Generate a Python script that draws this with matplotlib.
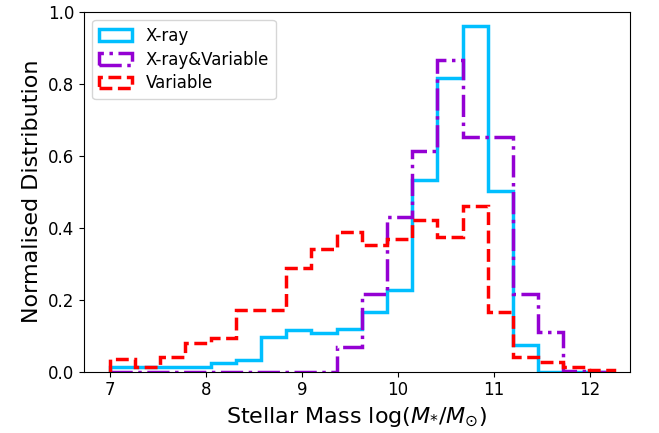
import numpy as np
import matplotlib
matplotlib.use("Agg")
import matplotlib.pyplot as plt

# bin edges of log stellar mass
bin_edges = np.linspace(7.0, 12.25, 21)

# normalised counts per bin
xray = [0.012, 0.012, 0.012, 0.012, 0.023, 0.033, 0.096, 0.115, 0.107, 0.119,
        0.165, 0.228, 0.533, 0.815, 0.959, 0.503, 0.075, 0.0, 0.0, 0.0]
xray_var = [0.0, 0.0, 0.0, 0.0, 0.0, 0.0, 0.0, 0.0, 0.0, 0.068,
            0.216, 0.431, 0.612, 0.866, 0.652, 0.652, 0.216, 0.109, 0.002, 0.0]
variable = [0.035, 0.014, 0.040, 0.079, 0.093, 0.172, 0.172, 0.289, 0.340, 0.387,
            0.351, 0.368, 0.421, 0.373, 0.459, 0.166, 0.040, 0.028, 0.012, 0.005]

centres = 0.5 * (bin_edges[:-1] + bin_edges[1:])

fig = plt.figure(figsize=(6.59, 4.33), dpi=100)
ax = fig.add_axes([0.1275, 0.1416, 0.8285, 0.8314])

ax.hist(centres, bins=bin_edges, weights=xray, histtype='step', lw=2.5,
        color='deepskyblue', ls='-', label='X-ray')
ax.hist(centres, bins=bin_edges, weights=xray_var, histtype='step', lw=2.5,
        color='darkviolet', ls='-.', label='X-ray&Variable')
ax.hist(centres, bins=bin_edges, weights=variable, histtype='step', lw=2.5,
        color='red', ls='--', label='Variable')

ax.set_xlim(6.73, 12.42)
ax.set_ylim(0, 1.0)
ax.set_xticks([7, 8, 9, 10, 11, 12])
ax.tick_params(labelsize=12)
ax.set_xlabel(r'Stellar Mass log($M_{*}/M_{\odot}$)', fontsize=16)
ax.set_ylabel('Normalised Distribution', fontsize=16)
ax.legend(loc='upper left', fontsize=12, labelspacing=0.35)

fig.savefig('out.png', dpi=100)
